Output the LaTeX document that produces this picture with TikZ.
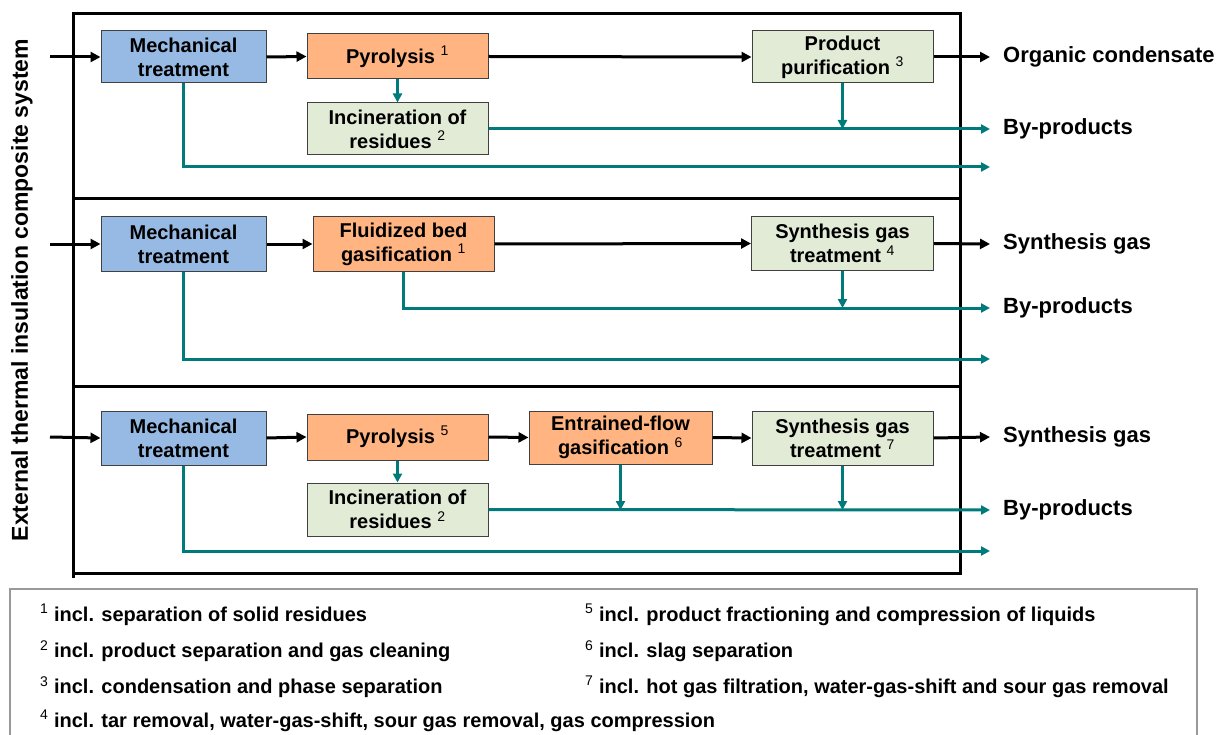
\documentclass[tikz,border=0pt]{standalone}
\usepackage{fontspec}
\setmainfont{Liberation Sans}
\usepackage{xcolor}
\usepackage{tikz}
\usetikzlibrary{positioning}
\usetikzlibrary{arrows.meta}
\definecolor{mechblue}{RGB}{150,186,228}
\definecolor{procorange}{RGB}{255,180,130}
\definecolor{treatgreen}{RGB}{226,235,214}
\definecolor{flowteal}{RGB}{0,122,122}
\newcommand{\fnum}[1]{\textsuperscript{\mdseries #1}}
\tikzstyle{unit}=[rectangle,draw=black!75,line width=1pt,align=center,inner sep=0pt,minimum width=181pt,minimum height=53pt,font=\fontsize{20}{24}\selectfont\bfseries]
\tikzstyle{mech}=[unit,fill=mechblue,minimum width=165pt]
\tikzstyle{proc}=[unit,fill=procorange]
\tikzstyle{treat}=[unit,fill=treatgreen]
\tikzstyle{mainflow} = [draw,line width=3pt,-{Triangle[length=10pt,width=10pt]}]
\tikzstyle{sideflow} = [draw,flowteal,line width=3pt,-{Triangle[length=9pt,width=9pt]}]
\tikzstyle{frame} = [draw,line width=3pt]
\tikzstyle{outlabel} = [font=\fontsize{22}{26}\selectfont\bfseries,inner sep=0pt]
\tikzset{note/.style={anchor=west,inner sep=0pt,font=\fontsize{20}{24}\selectfont\bfseries}}

\begin{document}
\begin{tikzpicture}[x=1pt,y=-1pt]
\useasboundingbox (0,0) rectangle (1222,735);

 % frames
 \draw[frame] (73,14) rectangle (960,199);
 \draw[frame] (73,199) rectangle (960,386);
 \draw[frame] (73,386) rectangle (960,573);
 \draw[frame] (73,573) -- (73,578);

 \node[rotate=90,font=\fontsize{23}{27}\selectfont\bfseries] (sysname) at (22,290) {External thermal insulation composite system};

 %Pyrolysis route
 \foreach \x/\y/\name/\label in {183.5/57/mechA/{Mechanical\\treatment}}
   \node[mech,minimum height=52pt] (\name) at (\x,\y) {\label};
 \foreach \x/\y/\name/\label in {397.5/56.5/pyroA/{Pyrolysis \fnum{1}}}
   \node[proc,minimum height=45pt] (\name) at (\x,\y) {\label};
 \foreach \x/\y/\name/\label in {397.5/129/incinA/{Incineration of\\residues \fnum{2}}, 842.5/57/purif/{Product\\purification \fnum{3}}}
   \node[treat,minimum height=52pt] (\name) at (\x,\y) {\label};

 \coordinate (inA) at (50,57);
 \coordinate (outA) at (990,57);
 \coordinate (byA) at (990,129);
 \coordinate (resA) at (990,167);

 \foreach \source/\dest in {inA/mechA.west, mechA.east/pyroA.west, pyroA.east/purif.west, purif.east/outA}
   \path[mainflow] (\source) -- (\dest);
 \foreach \source/\dest in {pyroA.south/incinA.north, incinA.east/byA}
   \path[sideflow] (\source) -- (\dest);
 \path[sideflow] (purif.south) -- (purif.south |- byA);
 \path[sideflow] (mechA.south) |- (resA);

 \node[outlabel,right=13pt of outA] (condA) {Organic condensate};
 \node[outlabel,right=13pt of byA] (byprodA) {By-products};

 %Fluidized bed route
 \node[mech,minimum height=54pt] (mechB) at (183.5,244) {Mechanical\\treatment};
 \node[proc,minimum height=54pt] (fbB) at (403.5,244) {Fluidized bed\\gasification \fnum{1}};
 \node[treat,minimum width=182pt] (sgB) at (842.5,243.5) {Synthesis gas\\treatment \fnum{4}};

 \coordinate (inB) at (50,244);
 \coordinate (outB) at (990,244);
 \coordinate (byB) at (990,308);
 \coordinate (resB) at (990,359);

 \foreach \source/\dest in {inB/mechB.west, mechB.east/fbB.west, fbB.east/sgB.west, sgB.east/outB}
   \path[mainflow] (\source) -- (\dest);
 \path[sideflow] (fbB.south) |- (byB);
 \path[sideflow] (sgB.south) -- (sgB.south |- byB);
 \path[sideflow] (mechB.south) |- (resB);

 \node[outlabel,right=13pt of outB] (synB) {Synthesis gas};
 \node[outlabel,right=13pt of byB] (byprodB) {By-products};

 %Entrained-flow route
 \node[mech,minimum height=54pt] (mechC) at (183.5,438) {Mechanical\\treatment};
 \node[proc,minimum height=46pt] (pyroC) at (397.5,437) {Pyrolysis \fnum{5}};
 \node[proc,minimum width=183pt] (efC) at (620.5,437.5) {Entrained-flow\\gasification \fnum{6}};
 \node[treat,minimum height=54pt] (sgC) at (842.5,438) {Synthesis gas\\treatment \fnum{7}};
 \node[treat] (incinC) at (397.5,509.5) {Incineration of\\residues \fnum{2}};

 \coordinate (inC) at (50,437);
 \coordinate (outC) at (990,437);
 \coordinate (byC) at (990,510);
 \coordinate (resC) at (990,551);

 \foreach \source/\dest in {inC/mechC.west, mechC.east/pyroC.west, pyroC.east/efC.west, efC.east/sgC.west, sgC.east/outC}
   \path[mainflow] (\source) -- (\dest);
 \foreach \source/\dest in {pyroC.south/incinC.north, incinC.east/byC}
   \path[sideflow] (\source) -- (\dest);
 \path[sideflow] (efC.south) -- (efC.south |- byC);
 \path[sideflow] (sgC.south) -- (sgC.south |- byC);
 \path[sideflow] (mechC.south) |- (resC);

 \node[outlabel,right=13pt of outC] (synC) {Synthesis gas};
 \node[outlabel,right=13pt of byC] (byprodC) {By-products};

 %Footnotes
 \draw[black!40,line width=1.5pt] (10,740) -- (10,589) -- (1197,589) -- (1197,740);
 \foreach \x/\y/\name/\txt in {40/615/noteA/{\fnum{1} incl. separation of solid residues},
     40/651/noteB/{\fnum{2} incl. product separation and gas cleaning},
     40/687/noteC/{\fnum{3} incl. condensation and phase separation},
     40/721/noteD/{\fnum{4} incl. tar removal, water-gas-shift, sour gas removal, gas compression},
     585/615/noteE/{\fnum{5} incl. product fractioning and compression of liquids},
     585/651/noteF/{\fnum{6} incl. slag separation},
     585/687/noteG/{\fnum{7} incl. hot gas filtration, water-gas-shift and sour gas removal}}
   \node[note] (\name) at (\x,\y) {\txt};

\end{tikzpicture}
\end{document}
